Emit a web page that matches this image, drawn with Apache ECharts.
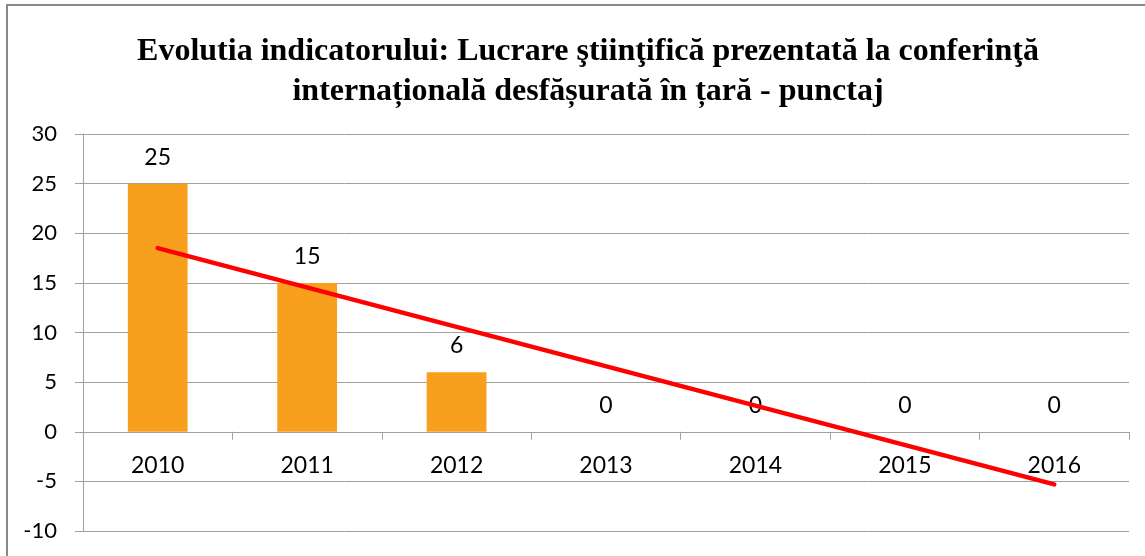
<!DOCTYPE html>
<html>
<head>
<meta charset="utf-8">
<script src="https://cdn.jsdelivr.net/npm/echarts@6/dist/echarts.min.js"></script>
<style>
  html, body { margin: 0; padding: 0; background: #fff; }
  #chart { width: 1145px; height: 556px; }
</style>
</head>
<body>
<div id="chart"></div>
<script>
// date
const years = ['2010', '2011', '2012', '2013', '2014', '2015', '2016'];
const punctaj = [25, 15, 6, 0, 0, 0, 0];
// linia de tendinta (capete)
const trend = [18.5, null, null, null, null, null, -5.3];
const yTicks = [-10, 30, 5]; // min, max, interval

const labelFont = 'Lato, "Open Sans", sans-serif';
const gridLine = '#a0a0a0';

let chart = echarts.init(document.getElementById('chart'));
chart.setOption({
  animation: false,
  title: {
    text: 'Evolutia indicatorului: Lucrare ştiinţifică prezentată la conferinţă\ninternațională desfășurată în țară - punctaj',
    left: 583,
    top: 27,
    textAlign: 'center',
    textStyle: {
      fontFamily: '"Liberation Serif", "DejaVu Serif", serif',
      fontWeight: 'bold',
      fontSize: 32,
      lineHeight: 40,
      color: '#000'
    }
  },
  graphic: [{
    type: 'rect',
    shape: { x: 7, y: 5, width: 1200, height: 600 },
    style: { fill: 'none', stroke: '#888', lineWidth: 2 },
    silent: true
  }],
  grid: {
    left: 83,
    right: 16,
    top: 134,
    bottom: 25,
    containLabel: false,
    outerBoundsMode: 'none'
  },
  xAxis: [{
    // linia de la zero cu diviziuni
    type: 'category',
    data: years,
    axisLine: { onZero: true, lineStyle: { color: gridLine, width: 1 } },
    axisTick: { show: true, length: 8, lineStyle: { color: gridLine } },
    axisLabel: { show: false }
  }, {
    // etichetele anilor, sub linia de zero
    type: 'category',
    data: years,
    position: 'bottom',
    offset: -100,
    axisLine: { show: false, onZero: false },
    axisTick: { show: false },
    axisLabel: { margin: 23, color: '#000', fontSize: 23, fontFamily: labelFont }
  }],
  yAxis: {
    type: 'value',
    min: yTicks[0],
    max: yTicks[1],
    interval: yTicks[2],
    axisLine: { show: true, lineStyle: { color: gridLine, width: 1 } },
    axisTick: { show: true, length: 8, lineStyle: { color: gridLine } },
    axisLabel: { margin: 26, color: '#000', fontSize: 22, fontFamily: labelFont },
    splitLine: { lineStyle: { color: gridLine, width: 1 } }
  },
  series: [{
    name: 'punctaj',
    type: 'bar',
    data: punctaj,
    barWidth: '40%',
    itemStyle: { color: '#F99F1E' },
    label: {
      show: true,
      position: 'top',
      distance: 15,
      color: '#000',
      fontSize: 23,
      fontFamily: labelFont
    }
  }, {
    name: 'tendinta',
    type: 'line',
    data: trend,
    connectNulls: true,
    symbol: 'none',
    z: 5,
    lineStyle: { color: '#ff0000', width: 4.5, cap: 'round' }
  }]
});
</script>
</body>
</html>
